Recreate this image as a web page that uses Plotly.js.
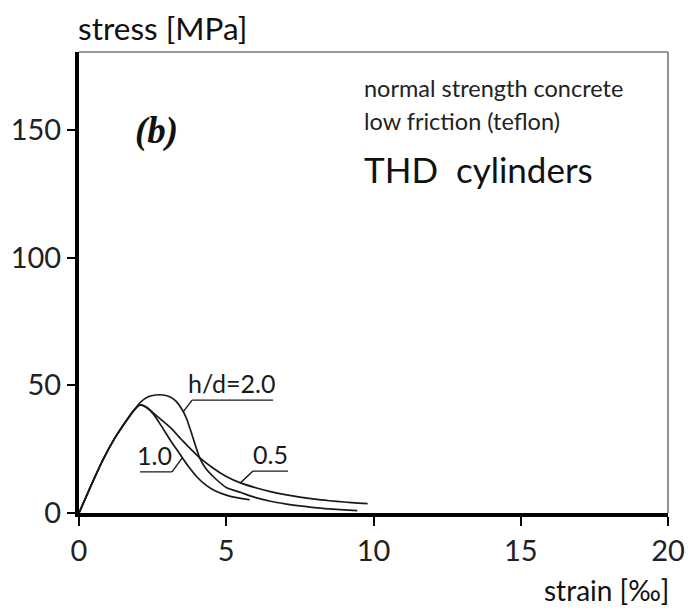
<!DOCTYPE html>
<html>
<head>
<meta charset="utf-8">
<script src="https://cdn.plot.ly/plotly-3.0.1.min.js"></script>
<style>html,body{margin:0;padding:0;background:#fff;}#chart{width:695px;height:610px;}</style>
</head>
<body>
<div id="chart"></div>
<script>
// strain [‰] and stress [MPa]
const strainHD20 = [0, 0.4, 0.8, 1.2, 1.6, 1.85, 2.1, 2.35, 2.6, 2.85, 3.1, 3.3, 3.5, 3.65, 3.8, 3.95, 4.1, 4.3, 4.6, 5.0, 5.5, 6.0, 6.5, 7.0, 7.5, 8.0, 8.5, 9.0, 9.45];
const stressHD20 = [0, 10.5, 20.5, 29, 36, 40, 43.5, 45.5, 46.2, 46.2, 45.4, 43.7, 40.5, 37, 32, 26.5, 21.5, 17.5, 13.8, 10.0, 8.0, 6.0, 4.6, 3.6, 2.8, 2.1, 1.6, 1.2, 0.9];

const strainHD10 = [0, 0.4, 0.8, 1.2, 1.6, 1.85, 2.07, 2.3, 2.52, 2.8, 3.1, 3.4, 3.7, 4.0, 4.3, 4.6, 5.0, 5.4, 5.8];
const stressHD10 = [0, 10.5, 20.5, 29, 36, 40, 42.3, 41.2, 38.8, 34, 28.5, 23.5, 18.5, 14.2, 11.0, 8.8, 7.0, 5.9, 5.2];

const strainHD05 = [0, 0.4, 0.8, 1.2, 1.6, 1.85, 2.07, 2.3, 2.52, 2.8, 3.1, 3.5, 4.0, 4.5, 5.0, 5.5, 6.0, 6.5, 7.0, 7.5, 8.0, 8.5, 9.0, 9.5, 9.8];
const stressHD05 = [0, 10.5, 20.5, 29, 36, 40, 42.3, 41.4, 39.2, 36.5, 33.5, 28.5, 22.7, 18.0, 14.3, 11.7, 9.9, 8.4, 7.2, 6.2, 5.4, 4.8, 4.3, 3.9, 3.7];

const xTicks = [0, 5, 10, 15, 20];
const yTicks = [0, 50, 100, 150];
const curveLabels = ['h/d=2.0', '1.0', '0.5'];

const lineStyle = {color: '#1a1a1a', width: 1.7, shape: 'spline', smoothing: 0.6};
const traces = [
  {x: strainHD20, y: stressHD20, mode: 'lines', line: lineStyle, name: curveLabels[0]},
  {x: strainHD10, y: stressHD10, mode: 'lines', line: lineStyle, name: curveLabels[1]},
  {x: strainHD05, y: stressHD05, mode: 'lines', line: lineStyle, name: curveLabels[2]}
];

const font = 'Lato, "Open Sans", sans-serif';
const lbl = {family: font, size: 25, color: '#1a1a1a'};

// label underline + leader paths (data coords)
function leader(x0, x1, y, tx, ty, startLeft) {
  const sx = startLeft ? x0 : x1;
  return {type: 'path', xref: 'x', yref: 'y',
    path: `M ${x0} ${y} L ${x1} ${y} M ${sx} ${y} L ${tx} ${ty}`,
    line: {color: '#1a1a1a', width: 1.4}};
}

const layout = {
  width: 695, height: 610,
  margin: {l: 79, r: 27, t: 52, b: 97},
  paper_bgcolor: '#fff', plot_bgcolor: '#fff',
  showlegend: false,
  xaxis: {
    range: [0, 20], tickvals: xTicks, ticktext: xTicks.map(String),
    showgrid: false, zeroline: false,
    showline: true, linecolor: '#000', linewidth: 4,
    ticks: 'outside', ticklen: 9, tickwidth: 2, tickcolor: '#000',
    tickfont: {family: font, size: 29, color: '#222'}
  },
  yaxis: {
    range: [0, 180.5], tickvals: yTicks, ticktext: yTicks.map(String),
    showgrid: false, zeroline: false,
    showline: true, linecolor: '#000', linewidth: 4,
    ticks: 'outside', ticklen: 8, tickwidth: 2, tickcolor: '#000',
    tickfont: {family: font, size: 29, color: '#222'}
  },
  shapes: [
    {type: 'line', xref: 'paper', yref: 'paper', x0: 0, x1: 1, y0: 1, y1: 1, line: {color: '#777', width: 1.6}},
    {type: 'line', xref: 'paper', yref: 'paper', x0: 1, x1: 1, y0: 0, y1: 1, line: {color: '#777', width: 1.6}},
    leader(3.84, 6.59, 44.2, 3.53, 39.5, true),
    leader(2.07, 3.16, 16.1, 3.5, 21.5, false),
    leader(5.91, 7.1, 16.4, 5.47, 11.7, true)
  ],
  annotations: [
    {xref: 'paper', yref: 'paper', x: 0, y: 1, xanchor: 'left', yanchor: 'bottom', yshift: 3, xshift: -3,
     text: 'stress [MPa]', showarrow: false, font: {family: font, size: 31.5, color: '#111'}},
    {xref: 'paper', yref: 'paper', x: 1, y: 0, xanchor: 'right', yanchor: 'top', yshift: -58, xshift: 3,
     text: 'strain [‰]', showarrow: false, font: {family: font, size: 28, color: '#111'}},
    {xref: 'x', yref: 'y', x: 1.85, y: 149.5, xanchor: 'left', yanchor: 'middle',
     text: '<b><i>(b)</i></b>', showarrow: false, font: {family: '"Liberation Serif", "DejaVu Serif", serif', size: 37, color: '#111'}},
    {xref: 'x', yref: 'y', x: 9.6, y: 166.5, xanchor: 'left', yanchor: 'middle',
     text: 'normal strength concrete', showarrow: false, font: {family: font, size: 23.5, color: '#222'}},
    {xref: 'x', yref: 'y', x: 9.6, y: 153.5, xanchor: 'left', yanchor: 'middle',
     text: 'low friction (teflon)', showarrow: false, font: {family: font, size: 23.5, color: '#222'}},
    {xref: 'x', yref: 'y', x: 9.6, y: 134.5, xanchor: 'left', yanchor: 'middle',
     text: 'THD&nbsp;&nbsp;cylinders', showarrow: false, font: {family: font, size: 35, color: '#111'}},
    {xref: 'x', yref: 'y', x: 5.2, y: 44.2, xanchor: 'center', yanchor: 'bottom', yshift: 0,
     text: curveLabels[0], showarrow: false, font: lbl},
    {xref: 'x', yref: 'y', x: 2.55, y: 16.1, xanchor: 'center', yanchor: 'bottom', yshift: 0,
     text: curveLabels[1], showarrow: false, font: lbl},
    {xref: 'x', yref: 'y', x: 6.5, y: 16.4, xanchor: 'center', yanchor: 'bottom', yshift: 0,
     text: curveLabels[2], showarrow: false, font: lbl}
  ]
};

Plotly.newPlot('chart', traces, layout, {staticPlot: true, displayModeBar: false});
</script>
</body>
</html>
